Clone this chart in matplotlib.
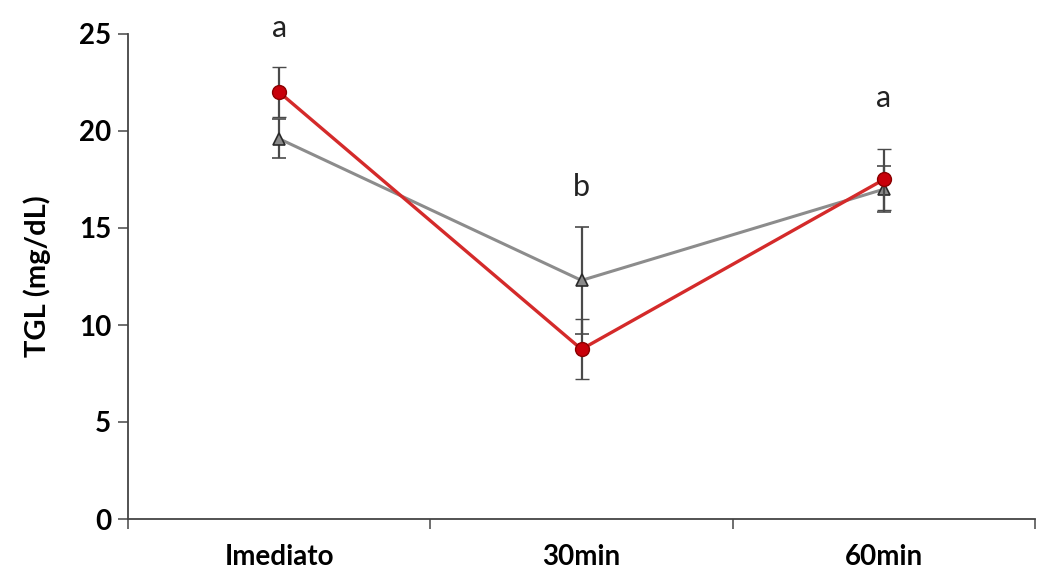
import matplotlib.pyplot as plt
import numpy as np

categories = ["Imediato", "30min", "60min"]
red_mean = [22.0, 8.75, 17.5]
red_err = [1.3, 1.55, 1.55]
gray_mean = [19.6, 12.3, 17.0]
gray_err = [1.0, 2.75, 1.2]
letters = ["a", "b", "a"]
letter_y = [25.3, 17.1, 21.7]

plt.rcParams["font.family"] = ["Lato", "DejaVu Sans"]

fig = plt.figure(figsize=(10.39, 5.74), dpi=100)
W, H = 1039, 574
ax = fig.add_axes([128 / W, (H - 519) / H, (1035 - 128) / W, (519 - 34) / H])

x = np.arange(len(categories))
ax.errorbar(x, gray_mean, yerr=gray_err, color="#8c8c8c", lw=2.2,
            marker="^", ms=9, mfc="#8a8a8a", mec="#2a2a2a", mew=1.2,
            ecolor="#4a4a4a", elinewidth=1.6, capsize=5, capthick=1.6, zorder=2)
ax.errorbar(x, red_mean, yerr=red_err, color="#d42a2a", lw=2.4,
            marker="o", ms=10, mfc="#c8000a", mec="#8a0000", mew=1.0,
            ecolor="#4a4a4a", elinewidth=1.6, capsize=5, capthick=1.6, zorder=3)

for xi, lab, ly in zip(x, letters, letter_y):
    ax.text(xi, ly, lab, ha="center", va="center", fontsize=22, color="#222222")

ax.set_xlim(-0.5, 2.454)
ax.set_ylim(0, 25)
ax.set_yticks([0, 5, 10, 15, 20, 25])
ax.set_xticks(x)
ax.set_xticklabels(categories, fontweight="bold", fontsize=20)
ax.set_xticks([-0.5, 0.5, 1.5, 2.5], minor=True)
ax.tick_params(axis="x", which="major", length=0, pad=18)
ax.tick_params(axis="x", which="minor", length=7, width=1.2, color="#555555", direction="out")
ax.tick_params(axis="y", length=7, width=1.2, color="#555555", direction="out", pad=5)
for t in ax.get_yticklabels():
    t.set_fontweight("bold")
    t.set_fontsize(20)

ax.set_ylabel("TGL (mg/dL)", fontweight="bold", fontsize=21, labelpad=20)

for side in ["top", "right"]:
    ax.spines[side].set_visible(False)
for side in ["left", "bottom"]:
    ax.spines[side].set_color("#444444")
    ax.spines[side].set_linewidth(1.3)

fig.savefig("out.png", dpi=100)
